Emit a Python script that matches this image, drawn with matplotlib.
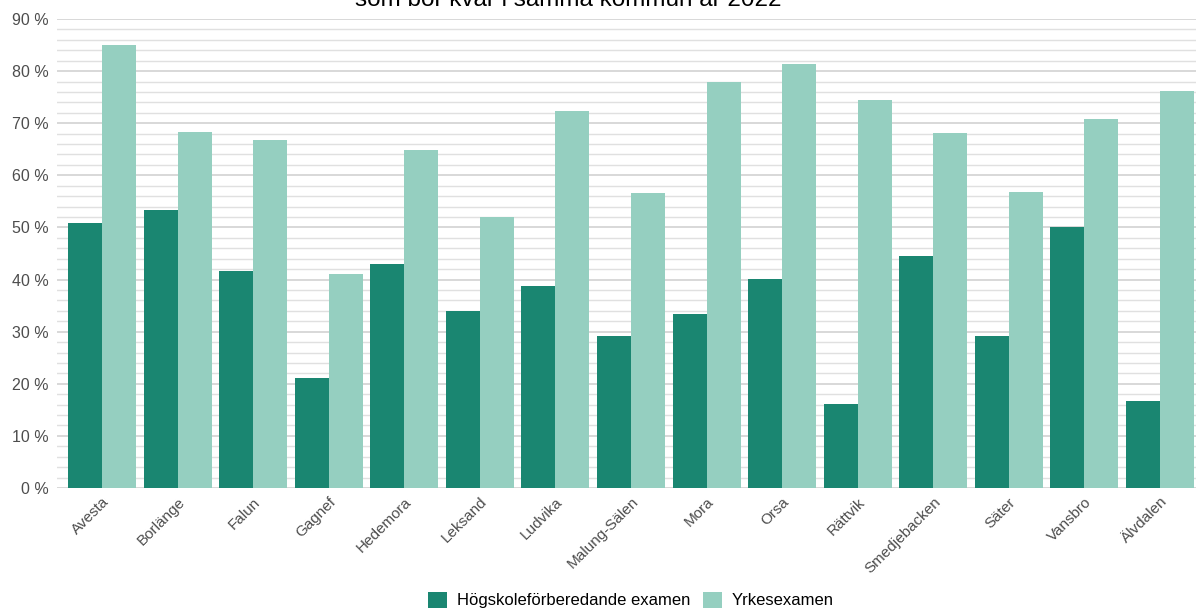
import matplotlib
matplotlib.use('Agg')
import matplotlib.pyplot as plt
import numpy as np

plt.rcParams['font.family'] = ['Liberation Sans', 'DejaVu Sans']

# Data (andel i procent)
kommuner = ['Avesta', 'Borlänge', 'Falun', 'Gagnef', 'Hedemora', 'Leksand', 'Ludvika',
            'Malung-Sälen', 'Mora', 'Orsa', 'Rättvik', 'Smedjebacken', 'Säter',
            'Vansbro', 'Älvdalen']
hogskole = [50.8, 53.4, 41.6, 21.1, 42.9, 33.9, 38.8, 29.2, 33.4, 40.1, 16.1, 44.5,
            29.2, 50.1, 16.7]
yrkes = [85.0, 68.3, 66.7, 41.1, 64.8, 52.0, 72.4, 56.6, 77.9, 81.3, 74.5, 68.1,
         56.8, 70.9, 76.1]
series_names = ['Högskoleförberedande examen', 'Yrkesexamen']

DARK = '#1a8671'
LIGHT = '#95cfc0'

fig = plt.figure(figsize=(11.96, 6.09), dpi=100)
ax = fig.add_axes([57 / 1196, 121 / 609, 1148 / 1196, 469 / 609])

x = np.arange(len(kommuner))
w = 0.45
ax.bar(x - w / 2, hogskole, w, color=DARK, label=series_names[0], zorder=3)
ax.bar(x + w / 2, yrkes, w, color=LIGHT, label=series_names[1], zorder=3)

ax.set_xlim(-0.595, len(kommuner) - 1 + 0.595)
ax.set_ylim(0, 90)
ax.set_yticks(np.arange(0, 91, 10))
ax.set_yticks(np.arange(0, 91, 2), minor=True)
ax.set_yticklabels([f'{v} %' for v in range(0, 91, 10)], fontsize=11.5, color='#4d4d4d')
ax.grid(axis='y', which='major', color='#d2d2d2', linewidth=1.2, zorder=0)
ax.grid(axis='y', which='minor', color='#e0e0e0', linewidth=1.0, zorder=0)
ax.tick_params(axis='y', which='both', length=0, pad=6)
ax.tick_params(axis='x', length=0, pad=5)

ax.set_xticks(x)
ax.set_xticklabels(kommuner, rotation=45, ha='right', rotation_mode='anchor',
                   fontsize=11, color='#4d4d4d')

for s in ax.spines.values():
    s.set_visible(False)

fig.text(568 / 1196, 1 - 6 / 609, 'som bor kvar i samma kommun år 2022',
         ha='center', va='baseline', fontsize=17.5, color='black')

fig.legend(loc='center', bbox_to_anchor=(631 / 1196, 1 - 600 / 609), ncol=2,
           frameon=False, fontsize=12, handlelength=1.1, handleheight=1.1,
           handletextpad=0.6, columnspacing=0.8)

fig.savefig('out.png', dpi=100)
